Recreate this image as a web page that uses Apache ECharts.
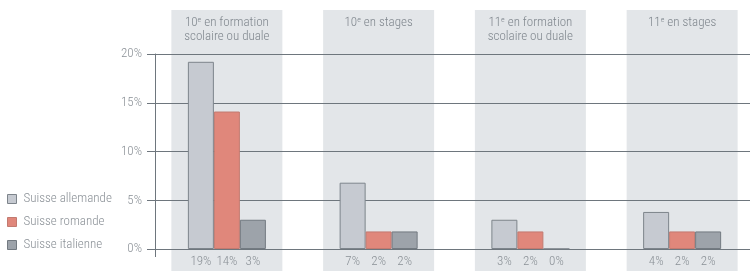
<!DOCTYPE html>
<html>
<head>
<meta charset="utf-8">
<script src="https://cdn.jsdelivr.net/npm/echarts@6/dist/echarts.min.js"></script>
<style>
  html, body { margin: 0; padding: 0; background: #fff; }
  #chart { width: 750px; height: 271px; }
</style>
</head>
<body>
<div id="chart"></div>
<script>
// données (en %)
const categories = [
  '10e en formation\nscolaire ou duale',
  '10e en stages',
  '11e en formation\nscolaire ou duale',
  '11e en stages'
]
const seriesNames = ['Suisse allemande', 'Suisse romande', 'Suisse italienne']
const allemande = [19.2, 6.8, 3.0, 3.8]
const romande = [14.1, 1.8, 1.8, 1.8]
const italienne = [3.0, 1.8, 0, 1.8]
const yTicks = [0, 5, 10, 15, 20]

const FONT = "'Roboto Condensed', 'DejaVu Sans Condensed', sans-serif"
const WEIGHT = 300
const TXT = '#8a9096'
const LINE = '#6e767d'

// "10e" -> 10 avec e en exposant
function headerLabel(p) {
  return categories[p.dataIndex].split('\n').map(line => {
    const m = line.match(/^(\d+)e(.*)$/)
    return m ? `{n|${m[1]}}{s|e}{n|${m[2]}}` : `{n|${line}}`
  }).join('\n')
}

const colors = [
  { color: '#c6cad1', borderColor: '#7d848b' },
  { color: '#e0877b', borderColor: '#c27a70' },
  { color: '#9da3aa', borderColor: '#737a81' }
]
const values = [allemande, romande, italienne]

const chart = echarts.init(document.getElementById('chart'))

chart.setOption({
  animation: false,
  textStyle: { fontFamily: FONT, fontWeight: WEIGHT },
  grid: [
    { left: 151, width: 607, top: 54, height: 195, outerBoundsMode: 'none' },
    { left: 151, width: 607, top: 10, height: 261, outerBoundsMode: 'none' }
  ],
  legend: {
    data: seriesNames,
    orient: 'vertical',
    left: 7,
    top: 192,
    padding: 0,
    itemWidth: 9,
    itemHeight: 9,
    itemGap: 9,
    icon: 'rect',
    itemStyle: { borderWidth: 1 },
    textStyle: { fontFamily: FONT, fontWeight: WEIGHT, fontSize: 13, lineHeight: 14, color: TXT, padding: [0, 0, 0, 2] }
  },
  xAxis: [
    { type: 'category', gridIndex: 0, data: categories, axisLine: { show: false }, axisTick: { show: false }, axisLabel: { show: false } },
    { type: 'category', gridIndex: 1, data: categories, show: false }
  ],
  yAxis: [
    {
      type: 'value', gridIndex: 0, min: yTicks[0], max: yTicks[yTicks.length - 1], interval: 5,
      offset: -4, z: 1,
      axisLine: { show: true, lineStyle: { color: LINE, width: 1 } },
      axisTick: { show: true, length: 8, lineStyle: { color: LINE } },
      splitLine: { lineStyle: { color: LINE, width: 1.2 } },
      axisLabel: {
        formatter: '{value}%', margin: 13, color: TXT, fontSize: 13, fontFamily: FONT, fontWeight: WEIGHT,
        verticalAlign: 'middle', lineHeight: 13, padding: [0, 0, 9, 0]
      }
    },
    { type: 'value', gridIndex: 1, min: 0, max: 1, show: false }
  ],
  series: [
    {
      type: 'bar', xAxisIndex: 1, yAxisIndex: 1, z: 0, silent: true,
      data: categories.map(() => 1),
      barWidth: 111,
      itemStyle: { color: '#e3e6e9' },
      label: {
        show: true, position: 'insideTop', distance: 6, formatter: headerLabel,
        rich: {
          n: { fontFamily: FONT, fontWeight: WEIGHT, fontSize: 13, lineHeight: 14, color: '#7f868d' },
          s: { fontFamily: FONT, fontWeight: WEIGHT, fontSize: 8, lineHeight: 14, color: '#7f868d', verticalAlign: 'top', padding: [0, 0, 5, 0] }
        }
      }
    },
    ...seriesNames.map((name, i) => ({
      name,
      type: 'bar',
      z: 2,
      barWidth: 26,
      barGap: '0%',
      data: values[i],
      itemStyle: { ...colors[i], borderWidth: 1 },
      label: {
        show: true, position: 'bottom', distance: 6,
        formatter: p => Math.round(p.value) + '%',
        color: TXT, fontSize: 13, fontFamily: FONT, fontWeight: WEIGHT
      }
    }))
  ]
})

// prolongement de l'axe vertical sous le 0
const y0 = chart.convertToPixel({ yAxisIndex: 0 }, 0)
chart.setOption({
  graphic: [{
    type: 'line', silent: true,
    shape: { x1: 155.5, y1: y0, x2: 155.5, y2: y0 + 8 },
    style: { stroke: LINE, lineWidth: 1 }
  }]
})

window.addEventListener('resize', () => chart.resize())
</script>
</body>
</html>
